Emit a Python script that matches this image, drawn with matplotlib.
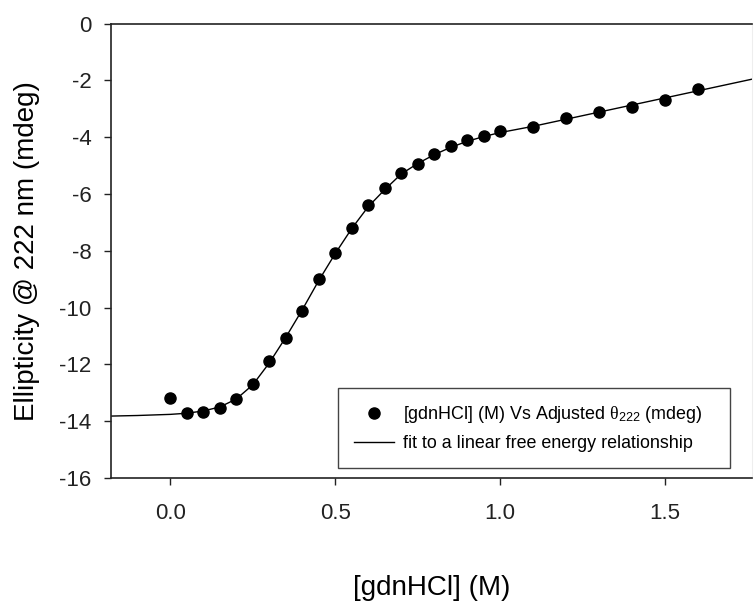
import matplotlib
matplotlib.use("Agg")
import matplotlib.pyplot as plt

plt.rcParams['font.family'] = ['Liberation Sans', 'DejaVu Sans']
plt.rcParams['mathtext.fontset'] = 'custom'
plt.rcParams['mathtext.rm'] = 'Liberation Sans'
plt.rcParams['mathtext.it'] = 'Liberation Serif'
plt.rcParams['mathtext.bf'] = 'Liberation Sans:bold'

# Measured data: [gdnHCl] (M) vs adjusted ellipticity (mdeg)
gdn_conc = [0.00, 0.05, 0.10, 0.15, 0.20, 0.25, 0.30, 0.35, 0.40, 0.45,
            0.50, 0.55, 0.60, 0.65, 0.70, 0.75, 0.80, 0.85, 0.90, 0.95,
            1.00, 1.10, 1.20, 1.30, 1.40, 1.50, 1.60]
ellipticity = [-13.20, -13.70, -13.68, -13.54, -13.22, -12.70, -11.88, -11.07, -10.11, -9.00,
               -8.08, -7.19, -6.38, -5.78, -5.27, -4.96, -4.61, -4.32, -4.10, -3.95,
               -3.78, -3.66, -3.34, -3.10, -2.95, -2.69, -2.32]

# Fit curve
fit_conc = [-0.18, -0.10, 0.00, 0.05, 0.10, 0.15, 0.20, 0.25, 0.30, 0.35,
            0.40, 0.45, 0.50, 0.55, 0.60, 0.65, 0.70, 0.75, 0.80, 0.85,
            0.90, 0.95, 1.00, 1.10, 1.20, 1.30, 1.40, 1.50, 1.60, 1.70, 1.80]
fit_ellip = [-13.82, -13.80, -13.76, -13.72, -13.64, -13.50, -13.22, -12.72, -11.95, -11.05,
             -10.08, -9.05, -8.10, -7.22, -6.45, -5.85, -5.30, -4.93, -4.62, -4.36,
             -4.15, -3.98, -3.84, -3.62, -3.37, -3.12, -2.87, -2.62, -2.37, -2.12, -1.87]

xticks = [0.0, 0.5, 1.0, 1.5]
yticks = [0, -2, -4, -6, -8, -10, -12, -14, -16]

fig = plt.figure(figsize=(7.56, 6.01), dpi=100)
ax = fig.add_axes([111/756, 123/601, 641/756, 454.5/601])

ax.plot(gdn_conc, ellipticity, 'o', color='black', markersize=8, linestyle='none',
        label=r'[gdnHCl] (M) Vs Adjusted $\theta_{222}$ (mdeg)', zorder=3)
ax.plot(fit_conc, fit_ellip, '-', color='black', linewidth=1.0,
        label='fit to a linear free energy relationship', zorder=2)

ax.set_xlim(-0.18, 1.764)
ax.set_ylim(-16, 0)
ax.set_xticks(xticks)
ax.set_xticklabels([f'{v:.1f}' for v in xticks])
ax.set_yticks(yticks)
ax.set_yticklabels([str(v) for v in yticks])

for s in ['left', 'bottom', 'top', 'right']:
    ax.spines[s].set_linewidth(1.2)
    ax.spines[s].set_color('#222222')
ax.spines['right'].set_color('#eeeeee')
ax.spines['right'].set_linewidth(0.8)

ax.tick_params(axis='both', direction='out', length=5, width=1.0, labelsize=16, colors='#222222')
ax.tick_params(axis='y', pad=9)
ax.tick_params(axis='x', pad=13)

ax.set_xlabel('[gdnHCl] (M)', fontsize=20, labelpad=37)
ax.set_ylabel('Ellipticity @ 222 nm (mdeg)', fontsize=20, labelpad=14)

w_leg = 392 / 641
x_leg = (338 - 111) / 641
leg = ax.legend(loc='lower left', bbox_to_anchor=(x_leg, 0.022, w_leg, 0.17), mode='expand',
                borderaxespad=0, fontsize=12.9, numpoints=1, fancybox=False, framealpha=1,
                edgecolor='#444444', handlelength=2.2, handletextpad=0.55,
                borderpad=0.9, labelspacing=0.55)
leg.get_frame().set_linewidth(1.0)

fig.savefig('out.png', dpi=100)
